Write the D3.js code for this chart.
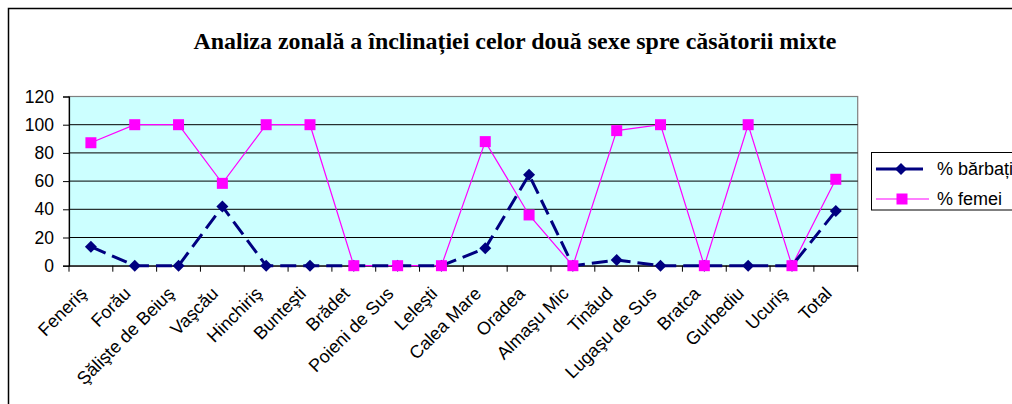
<!DOCTYPE html>
<html><head><meta charset="utf-8">
<script src="https://cdn.jsdelivr.net/npm/d3@7"></script>
<style>body{margin:0;background:#fff}svg{display:block}</style>
</head><body>
<svg id="c" width="1012" height="404"></svg>
<script>
const categories = ["Feneriş","Forău","Şălişte de Beiuş","Vaşcău","Hinchiriş","Bunteşti","Brădet","Poieni de Sus","Leleşti","Calea Mare","Oradea","Almaşu Mic","Tinăud","Lugaşu de Sus","Bratca","Gurbediu","Ucuriş","Total"];
const barbati = [13.5,0,0,42,0,0,0,0,0,12.3,64.5,0,4,0,0,0,0,38.8];
const femei   = [87.2,100,100,58.4,100,100,0,0,0,88,36,0,95.8,100,0,100,0,61.3];
const yTicks = [0,20,40,60,80,100,120];
const seriesNames = ["% bărbați","% femei"];
const title = "Analiza zonală a înclinației celor două sexe spre căsătorii mixte";

const svg = d3.select("#c");
const L = 69, R = 857.7, T = 96.5, B = 265.7;
const x = d3.scaleBand().domain(categories).range([L, R]);
const y = d3.scaleLinear().domain([0,120]).range([B, T]);
const cx = d => x(d) + x.bandwidth()/2;
const sans = "'Liberation Sans',Arial,sans-serif";

// outer border
svg.append("rect").attr("x",8.5).attr("y",8.5).attr("width",1100).attr("height",500)
  .attr("fill","#fff").attr("stroke","#000").attr("stroke-width",1.5);

// title
svg.append("text").attr("x",515).attr("y",48.5).attr("text-anchor","middle")
  .attr("font-family","'Liberation Serif','Times New Roman',serif").attr("font-weight","bold")
  .attr("font-size",23).attr("textLength",643).attr("lengthAdjust","spacingAndGlyphs")
  .text(title);

// plot area
svg.append("rect").attr("x",L).attr("y",T).attr("width",R-L).attr("height",B-T)
  .attr("fill","#CCFFFF").attr("stroke","#808080").attr("stroke-width",1.2);

// gridlines
svg.append("g").selectAll("line").data(yTicks.filter(v=>v>0 && v<120)).join("line")
  .attr("x1",L).attr("x2",R).attr("y1",d=>y(d)).attr("y2",d=>y(d))
  .attr("stroke","#000").attr("stroke-width",1);

// y axis
const yAxis = svg.append("g").attr("transform",`translate(${L},0)`)
  .call(d3.axisLeft(y).tickValues(yTicks).tickSize(6).tickPadding(9));
yAxis.attr("font-size",null).attr("font-family",null);
yAxis.select(".domain").attr("stroke","#000").attr("stroke-width",1.2);
yAxis.selectAll(".tick line").attr("stroke","#000");
yAxis.selectAll("text").style("font-family",sans).style("font-size","17.5px").attr("fill","#000");

// x axis
const xAxis = svg.append("g").attr("transform",`translate(0,${B})`)
  .call(d3.axisBottom(x).tickSize(0).tickFormat(""));
xAxis.select(".domain").attr("stroke","#000").attr("stroke-width",1.2);
const bounds = categories.map(c=>x(c)).concat([R]);
svg.append("g").selectAll("line").data(bounds).join("line")
  .attr("x1",d=>d).attr("x2",d=>d).attr("y1",B).attr("y2",B+6).attr("stroke","#000");

svg.append("g").selectAll("text").data(categories).join("text")
  .attr("transform",d=>`translate(${cx(d)-3},${B+29}) rotate(-45)`)
  .attr("text-anchor","end")
  .style("font-family",sans).style("font-size","18px")
  .text(d=>d);

// lines
const line = d3.line().x((d,i)=>cx(categories[i])).y(d=>y(d));
svg.append("path").datum(femei).attr("d",line).attr("fill","none")
  .attr("stroke","#FF00FF").attr("stroke-width",1.2);
svg.append("path").datum(barbati).attr("d",line).attr("fill","none")
  .attr("stroke","#000080").attr("stroke-width",3).attr("stroke-dasharray","16,7");

const diamond = (g,px,py,s) => g.append("path")
  .attr("d",`M${px},${py-s}L${px+s},${py}L${px},${py+s}L${px-s},${py}Z`).attr("fill","#000080");
const square = (g,px,py,s) => g.append("rect").attr("x",px-s).attr("y",py-s)
  .attr("width",2*s).attr("height",2*s).attr("fill","#FF00FF");

const mg = svg.append("g");
barbati.forEach((v,i)=>diamond(mg,cx(categories[i]),y(v),6));
femei.forEach((v,i)=>square(mg,cx(categories[i]),y(v),5.5));

// legend
const lg = svg.append("g");
lg.append("rect").attr("x",871.5).attr("y",152.5).attr("width",200).attr("height",57.5)
  .attr("fill","#fff").attr("stroke","#000").attr("stroke-width",1);
lg.append("line").attr("x1",876).attr("x2",923).attr("y1",169).attr("y2",169)
  .attr("stroke","#000080").attr("stroke-width",3);
diamond(lg,901,169,6);
lg.append("line").attr("x1",876).attr("x2",929).attr("y1",199).attr("y2",199)
  .attr("stroke","#FF00FF").attr("stroke-width",1.2);
square(lg,902,199,5.5);
lg.selectAll("text.l").data(seriesNames).join("text")
  .attr("x",937).attr("y",(d,i)=>175+i*30)
  .style("font-family",sans).style("font-size","18px")
  .text(d=>d);
</script>
</body></html>
